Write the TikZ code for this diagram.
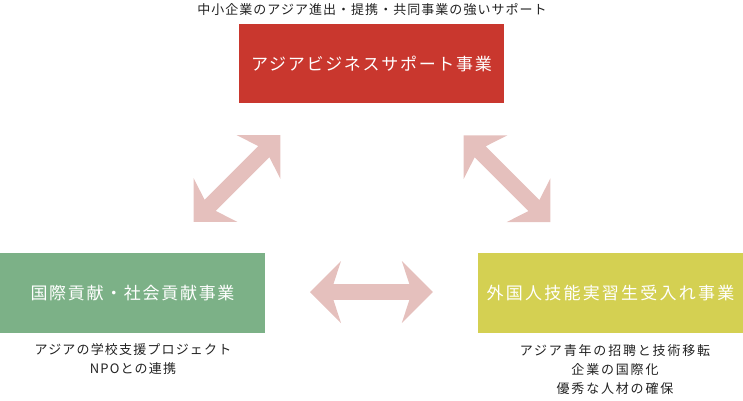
\documentclass[tikz,border=0pt]{standalone}
\usepackage{fontspec}
\newfontfamily\jpbox{Noto Sans CJK JP}[LetterSpace=10]
\newfontfamily\jpboxw{Noto Sans CJK JP}[LetterSpace=13]
\newfontfamily\jptxt{Noto Sans CJK JP}[LetterSpace=8]
\newfontfamily\jpnotel{Noto Sans CJK JP}[LetterSpace=9]
\newfontfamily\jpnoter{Noto Sans CJK JP}[LetterSpace=14]
\definecolor{redbox}{HTML}{C9372E}
\definecolor{greenbox}{HTML}{7CB187}
\definecolor{yellowbox}{HTML}{D4D052}
\definecolor{arrowcol}{HTML}{E5C0BD}
\definecolor{txt}{HTML}{222222}
\tikzset{
  biz/.style={rectangle, inner sep=0pt, minimum width=265pt, minimum height=79.5pt,
    text=white, font=\jpbox\fontsize{17}{20}\selectfont},
  note/.style={align=center, text=txt},
  dblarrow/.pic={\fill[arrowcol] (-61.4,0) -- (-30.4,31) -- (-38,7.8) -- (38,7.8)
    -- (30.4,31) -- (61.4,0) -- (30.4,-31) -- (38,-7.8) -- (-38,-7.8) -- (-30.4,-31) -- cycle;}
}
\begin{document}
\begin{tikzpicture}[x=1pt,y=-1pt]
\useasboundingbox (0,0) rectangle (743,400);
\node[text=txt, font=\jptxt\fontsize{13}{15}\selectfont] (cap) at (372,10)
  {中小企業のアジア進出・提携・共同事業の強いサポート};
\node[biz, fill=redbox] (asia) at (371.5,63.5) {アジアビジネスサポート事業};
\node[biz, fill=greenbox] (kokusai) at (132.5,293) {国際貢献・社会貢献事業};
\node[biz, fill=yellowbox, font=\jpboxw\fontsize{17}{20}\selectfont] (gaikoku) at (610.5,293) {外国人技能実習生受入れ事業};
\coordinate (a1) at (237,178.5);
\coordinate (a2) at (507,178.7);
\coordinate (a3) at (371.4,292);
\pic[rotate=45] at (a1) {dblarrow};
\pic[rotate=-45] at (a2) {dblarrow};
\pic at (a3) {dblarrow};
\node[note, font=\jpnotel\fontsize{13}{19}\selectfont] (n1) at (133,359.5) {アジアの学校支援プロジェクト\\NPOとの連携};
\node[note, font=\jpnoter\fontsize{13}{19}\selectfont] (n2) at (615,369.5) {アジア青年の招聘と技術移転\\企業の国際化\\優秀な人材の確保};
\end{tikzpicture}
\end{document}
